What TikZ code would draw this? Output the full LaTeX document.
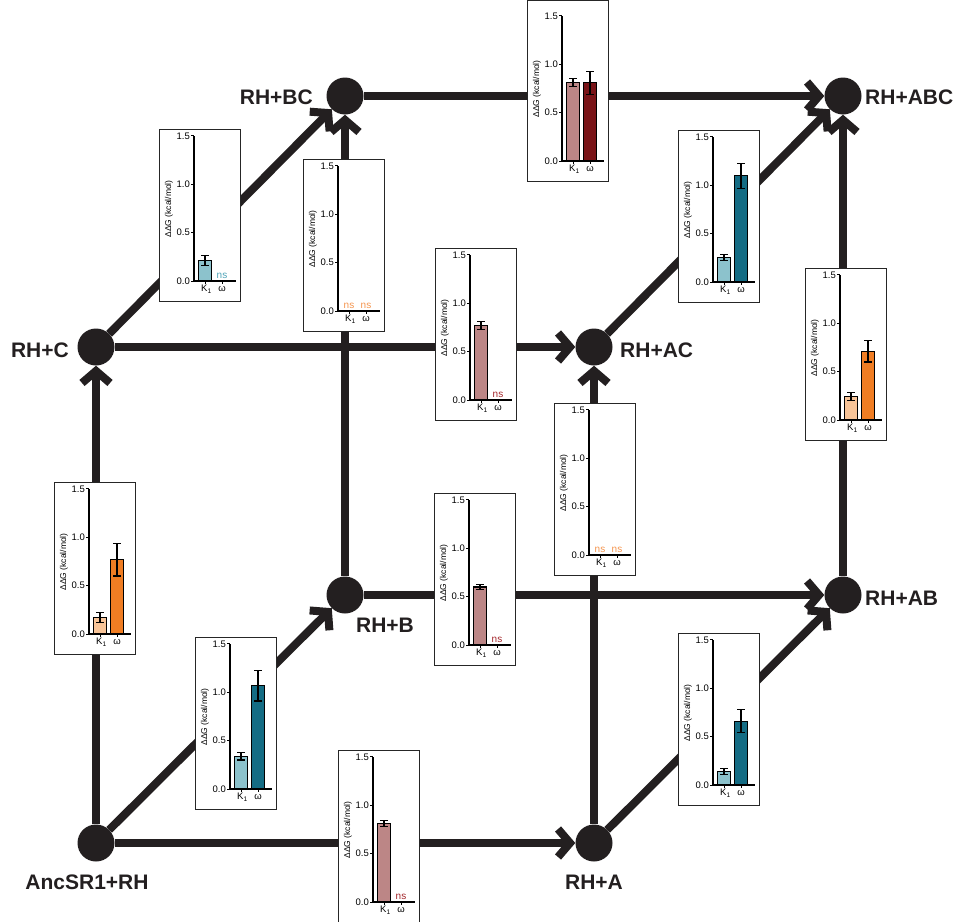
\documentclass[tikz,border=0pt]{standalone}
\usepackage{fontspec}
\setmainfont{Liberation Sans}
\usetikzlibrary{arrows.meta}
\definecolor{edgec}{RGB}{35,31,32}
\definecolor{rose}{RGB}{188,134,134}
\definecolor{dkred}{RGB}{122,20,24}
\definecolor{lteal}{RGB}{140,194,204}
\definecolor{tealc}{RGB}{20,108,132}
\definecolor{lorange}{RGB}{248,196,152}
\definecolor{orangec}{RGB}{240,125,35}
\definecolor{nsteal}{RGB}{80,165,185}
\definecolor{nsorange}{RGB}{245,150,80}
\definecolor{nsred}{RGB}{165,40,45}
\tikzset{
  dot/.style={circle, fill=edgec, minimum size=37pt, inner sep=0pt},
  lab/.style={font=\fontsize{21}{25}\selectfont\bfseries, inner sep=0pt, text=edgec},
  arr/.style={line width=8pt, draw=edgec, -{Straight Barb[length=12pt,width=28pt]}},
  tick/.style={font=\fontsize{9.5}{11}\selectfont, inner sep=0.5pt},
  ylab/.style={font=\fontsize{8.5}{10}\selectfont, inner sep=0.5pt},
  nsstyle/.style={font=\fontsize{10}{11}\selectfont, inner sep=0pt, anchor=south},
  frame/.style={line width=0.8pt, draw=black!85, fill=white},
  barline/.style={line width=1.1pt, draw=black},
}
% frame: x, y (axis origin in px), top
\newcommand\chartframe[3]{%
\begin{scope}[shift={(#1,#2)},yscale=-1]
 \draw[frame] (-35,-20) rectangle (46,#3);
\end{scope}}
% bar: x, y, offset, value, error, colour
\newcommand\kbar[6]{%
\begin{scope}[shift={(#1,#2)},yscale=-1]
 \draw[barline, fill=#6] ({#3-6.3},0) rectangle ({#3+6.3},{#4*96.7});
 \draw[barline] (#3,{(#4-#5)*96.7}) -- (#3,{(#4+#5)*96.7});
 \draw[barline] ({#3-4},{(#4-#5)*96.7}) -- ({#3+4},{(#4-#5)*96.7});
 \draw[barline] ({#3-4},{(#4+#5)*96.7}) -- ({#3+4},{(#4+#5)*96.7});
\end{scope}}
% ns label: id, x, y, offset, colour
\newcommand\nslab[5]{%
\begin{scope}[shift={(#2,#3)},yscale=-1]
 \node[nsstyle, text=#5] (#1) at (#4,2.5) {ns};
\end{scope}}
% axes: id, x, y
\newcommand\chartaxes[3]{%
\begin{scope}[shift={(#2,#3)},yscale=-1]
 \draw[line width=1.1pt] (0,145) -- (0,0) -- (42,0);
 \foreach \v/\t/\n in {0/0.0/a,0.5/0.5/b,1/1.0/c,1.5/1.5/d} {
   \draw[line width=1pt] (-3,{\v*96.7}) -- (0,{\v*96.7});
   \node[tick, anchor=east] (#1-\n) at (-3.5,{\v*96.7}) {\t};
 }
 \draw[line width=1pt] (11,0) -- (11,-3) (28,0) -- (28,-3);
 \node[tick, anchor=north] (#1-k) at (12.5,-3.5) {K\textsubscript{1}};
 \node[tick, anchor=north] (#1-w) at (28,-4.5) {ω};
 \node[ylab, rotate=90] (#1-y) at (-25,72) {ΔΔG (kcal/mol)};
\end{scope}}

\begin{document}
\begin{tikzpicture}[x=1pt,y=-1pt]
\useasboundingbox (0,0) rectangle (961,921);
\fill[white] (0,0) rectangle (961,921);

% nodes
\node[dot] (n0)   at (96,843) {};
\node[dot] (nA)   at (594,843) {};
\node[dot] (nB)   at (345,595) {};
\node[dot] (nAB)  at (843,595) {};
\node[dot] (nC)   at (96,347) {};
\node[dot] (nAC)  at (594,347) {};
\node[dot] (nBC)  at (345,96) {};
\node[dot] (nABC) at (843,96) {};

% edges
\draw[arr] (n0) -- (nA);
\draw[arr] (n0) -- (nB);
\draw[arr] (n0) -- (nC);
\draw[arr] (nA) -- (nAB);
\draw[arr] (nA) -- (nAC);
\draw[arr] (nB) -- (nAB);
\draw[arr] (nB) -- (nBC);
\draw[arr] (nC) -- (nAC);
\draw[arr] (nC) -- (nBC);
\draw[arr] (nAC) -- (nABC);
\draw[arr] (nAB) -- (nABC);
\draw[arr] (nBC) -- (nABC);

% labels
\node[lab] (l0) at (87,882) {AncSR1+RH};
\node[lab] (lA) at (594,882) {RH+A};
\node[lab] (lB) at (385,625) {RH+B};
\node[lab, anchor=west] (lAB) at (865,598) {RH+AB};
\node[lab, anchor=east] (lC) at (69,350) {RH+C};
\node[lab, anchor=west] (lAC) at (620,350) {RH+AC};
\node[lab, anchor=east] (lBC) at (313,97) {RH+BC};
\node[lab, anchor=west] (lABC) at (865,97) {RH+ABC};

% chart 1: BC -> ABC
\chartframe{562}{161}{161}
\kbar{562}{161}{11}{0.81}{0.04}{rose}
\kbar{562}{161}{28}{0.81}{0.12}{dkred}
\chartaxes{c1}{562}{161}
% chart 2: C -> BC
\chartframe{194}{281}{152}
\kbar{194}{281}{11}{0.21}{0.05}{lteal}
\nslab{c2-ns}{194}{281}{28}{nsteal}
\chartaxes{c2}{194}{281}
% chart 3: B -> BC
\chartframe{338}{311}{152}
\nslab{c3-ns1}{338}{311}{11}{nsorange}
\nslab{c3-ns2}{338}{311}{28}{nsorange}
\chartaxes{c3}{338}{311}
% chart 4: C -> AC
\chartframe{470}{400}{152}
\kbar{470}{400}{11}{0.77}{0.04}{rose}
\nslab{c4-ns}{470}{400}{28}{nsred}
\chartaxes{c4}{470}{400}
% chart 5: AC -> ABC
\chartframe{713}{282}{152}
\kbar{713}{282}{11}{0.25}{0.03}{lteal}
\kbar{713}{282}{28}{1.10}{0.13}{tealc}
\chartaxes{c5}{713}{282}
% chart 6: AB -> ABC
\chartframe{840}{420}{152}
\kbar{840}{420}{11}{0.24}{0.04}{lorange}
\kbar{840}{420}{28}{0.71}{0.11}{orangec}
\chartaxes{c6}{840}{420}
% chart 7: A -> AC
\chartframe{589}{555}{152}
\nslab{c7-ns1}{589}{555}{11}{nsorange}
\nslab{c7-ns2}{589}{555}{28}{nsorange}
\chartaxes{c7}{589}{555}
% chart 8: 0 -> C
\chartframe{89}{634}{152}
\kbar{89}{634}{11}{0.17}{0.05}{lorange}
\kbar{89}{634}{28}{0.77}{0.17}{orangec}
\chartaxes{c8}{89}{634}
% chart 9: B -> AB
\chartframe{469}{645}{152}
\kbar{469}{645}{11}{0.60}{0.03}{rose}
\nslab{c9-ns}{469}{645}{28}{nsred}
\chartaxes{c9}{469}{645}
% chart 10: 0 -> B
\chartframe{230}{789}{152}
\kbar{230}{789}{11}{0.34}{0.04}{lteal}
\kbar{230}{789}{28}{1.07}{0.16}{tealc}
\chartaxes{c10}{230}{789}
% chart 11: 0 -> A
\chartframe{373}{902}{152}
\kbar{373}{902}{11}{0.81}{0.03}{rose}
\nslab{c11-ns}{373}{902}{28}{nsred}
\chartaxes{c11}{373}{902}
% chart 12: A -> AB
\chartframe{713}{785}{152}
\kbar{713}{785}{11}{0.14}{0.03}{lteal}
\kbar{713}{785}{28}{0.66}{0.12}{tealc}
\chartaxes{c12}{713}{785}
\end{tikzpicture}
\end{document}
